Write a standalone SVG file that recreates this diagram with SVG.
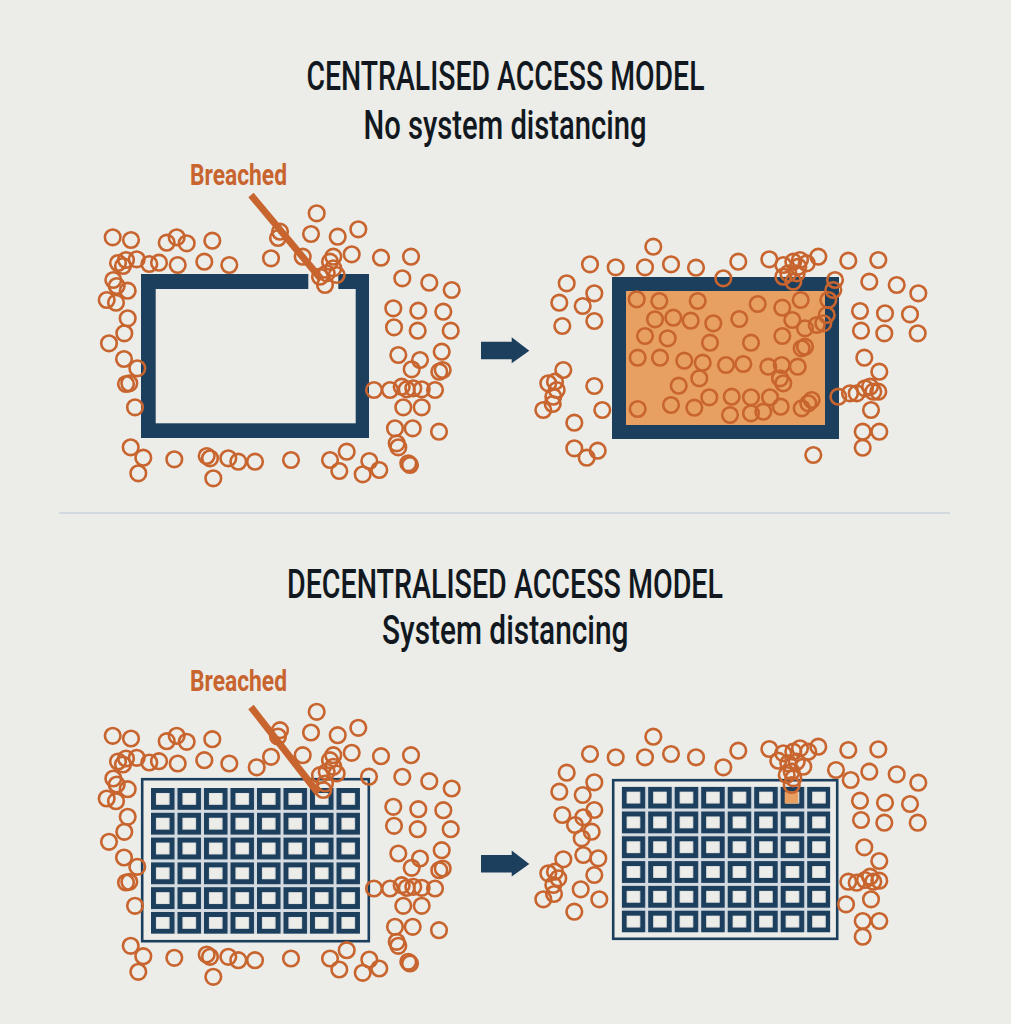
<svg xmlns="http://www.w3.org/2000/svg" xmlns:xlink="http://www.w3.org/1999/xlink" width="1011" height="1024" viewBox="0 0 1011 1024">
<style>
.title{font-family:Roboto,"Liberation Sans",sans-serif;font-weight:500;font-size:41px;fill:#111820;}
.sub{font-family:Roboto,"Liberation Sans",sans-serif;font-weight:500;font-size:40px;fill:#111820;}
.breach{font-family:Roboto,"Liberation Sans",sans-serif;font-weight:bold;font-size:30px;fill:#C8642E;}
.p circle{fill:none;stroke:#C8642E;stroke-width:2.6;r:7.8px;}
.wall{fill:#1C3F5E;}
.bg{fill:#ECECE8;}
.ptr{stroke:#C8642E;stroke-width:7;stroke-linecap:butt;}
</style>
<defs>
<pattern id="cells" patternUnits="userSpaceOnUse" x="0" y="0" width="26.5" height="24.8">
<rect x="0" y="0" width="26.5" height="24.8" fill="#D3DAE0"/>
<rect x="0" y="0" width="23.5" height="21.8" fill="#1C3F5E"/>
<rect x="5" y="5" width="13.5" height="11.8" fill="#ECECE8"/>
</pattern>
<g id="crowdL" class="p">
<circle cx="316.7" cy="213.3" r="7.8"/><circle cx="280" cy="231.7" r="7.8"/><circle cx="278" cy="238" r="7.8"/><circle cx="311" cy="234" r="7.8"/><circle cx="337.7" cy="236.7" r="7.8"/><circle cx="358.3" cy="229.3" r="7.8"/>
<circle cx="112.7" cy="237.3" r="7.8"/><circle cx="131" cy="240" r="7.8"/><circle cx="166.7" cy="242.7" r="7.8"/><circle cx="176.7" cy="237.3" r="7.8"/><circle cx="186.7" cy="243.3" r="7.8"/><circle cx="212.3" cy="240.7" r="7.8"/>
<circle cx="271" cy="258.3" r="7.8"/><circle cx="302.7" cy="256.7" r="7.8"/><circle cx="333.3" cy="256.7" r="7.8"/><circle cx="351.7" cy="254.3" r="7.8"/><circle cx="381" cy="257.7" r="7.8"/><circle cx="411" cy="256.7" r="7.8"/>
<circle cx="118" cy="263" r="7.8"/><circle cx="123" cy="266" r="7.8"/><circle cx="126" cy="260" r="7.8"/><circle cx="136.7" cy="259.3" r="7.8"/><circle cx="149.3" cy="264" r="7.8"/><circle cx="159" cy="262.7" r="7.8"/><circle cx="177.7" cy="265" r="7.8"/><circle cx="204.3" cy="261.7" r="7.8"/><circle cx="229.3" cy="265" r="7.8"/>
<circle cx="330" cy="261.7" r="7.8"/><circle cx="333.3" cy="268.3" r="7.8"/><circle cx="326.7" cy="273.3" r="7.8"/><circle cx="325" cy="285" r="7.8"/><circle cx="336.7" cy="275" r="7.8"/><circle cx="320" cy="276.7" r="7.8"/>
<circle cx="402.3" cy="278.3" r="7.8"/><circle cx="429.3" cy="282.7" r="7.8"/><circle cx="451.7" cy="290" r="7.8"/>
<circle cx="113.3" cy="280" r="7.8"/><circle cx="116.7" cy="286" r="7.8"/><circle cx="127.7" cy="290.7" r="7.8"/><circle cx="106.7" cy="300" r="7.8"/><circle cx="116" cy="302.7" r="7.8"/><circle cx="127.7" cy="318.3" r="7.8"/><circle cx="124.3" cy="333.3" r="7.8"/><circle cx="109" cy="343.3" r="7.8"/><circle cx="124" cy="359" r="7.8"/><circle cx="137.3" cy="368.3" r="7.8"/><circle cx="129.3" cy="383.3" r="7.8"/><circle cx="126" cy="384" r="7.8"/><circle cx="135" cy="407.3" r="7.8"/>
<circle cx="393.3" cy="308.3" r="7.8"/><circle cx="418.3" cy="310.7" r="7.8"/><circle cx="443.3" cy="311.7" r="7.8"/><circle cx="394" cy="327.3" r="7.8"/><circle cx="417.7" cy="330.7" r="7.8"/><circle cx="450.7" cy="330.7" r="7.8"/>
<circle cx="398.3" cy="355" r="7.8"/><circle cx="420" cy="360" r="7.8"/><circle cx="441.7" cy="351.7" r="7.8"/><circle cx="411.7" cy="369.3" r="7.8"/><circle cx="439.3" cy="371.7" r="7.8"/><circle cx="442.7" cy="370" r="7.8"/>
<circle cx="374" cy="390" r="7.8"/><circle cx="390" cy="390" r="7.8"/><circle cx="401.7" cy="386.7" r="7.8"/><circle cx="406.7" cy="389.3" r="7.8"/><circle cx="413.3" cy="388.3" r="7.8"/><circle cx="421.7" cy="389.3" r="7.8"/><circle cx="435" cy="390" r="7.8"/>
<circle cx="403.3" cy="407.3" r="7.8"/><circle cx="421.7" cy="407.3" r="7.8"/><circle cx="395" cy="428.3" r="7.8"/><circle cx="412.7" cy="428.3" r="7.8"/><circle cx="439" cy="431.7" r="7.8"/><circle cx="396.7" cy="443.3" r="7.8"/><circle cx="398.3" cy="447.3" r="7.8"/><circle cx="408.3" cy="463.3" r="7.8"/><circle cx="410" cy="465" r="7.8"/>
<circle cx="130.7" cy="447.3" r="7.8"/><circle cx="143.3" cy="457.7" r="7.8"/><circle cx="138.3" cy="473.3" r="7.8"/><circle cx="174.3" cy="459.3" r="7.8"/><circle cx="206.7" cy="456" r="7.8"/><circle cx="210" cy="458.3" r="7.8"/><circle cx="228.3" cy="458.3" r="7.8"/><circle cx="238.3" cy="461.7" r="7.8"/><circle cx="255" cy="461.7" r="7.8"/><circle cx="213.3" cy="478.3" r="7.8"/>
<circle cx="291" cy="460" r="7.8"/><circle cx="330" cy="460" r="7.8"/><circle cx="346.7" cy="451.7" r="7.8"/><circle cx="339.3" cy="471" r="7.8"/><circle cx="369.3" cy="461" r="7.8"/><circle cx="362.7" cy="474.3" r="7.8"/><circle cx="379.3" cy="470" r="7.8"/>
</g>
</defs>
<rect x="0" y="0" width="1011" height="1024" fill="#ECECE8"/>

<g id="title-centralised">
<text class="title" x="306.5" y="89.5" textLength="398" lengthAdjust="spacingAndGlyphs">CENTRALISED ACCESS MODEL</text>
<text class="sub" x="363.5" y="138.5" textLength="283" lengthAdjust="spacingAndGlyphs">No system distancing</text>
</g>

<g id="centralised-before">
<rect class="wall" x="141" y="274" width="228" height="164"/>
<rect class="bg" x="155.7" y="289" width="200" height="134.3"/>
<rect class="bg" x="308.3" y="273" width="30" height="17"/>
<use xlink:href="#crowdL"/>
<line class="ptr" x1="251" y1="195" x2="321" y2="279"/>
<text class="breach" x="190" y="185" textLength="97" lengthAdjust="spacingAndGlyphs">Breached</text>
</g>

<g id="centralised-after">
<rect class="wall" x="612" y="277" width="227" height="162"/>
<rect x="626" y="291" width="199" height="134" fill="#E8A062"/>
<g class="p">
<circle cx="653.3" cy="246.7" r="7.8"/><circle cx="590" cy="264.3" r="7.8"/><circle cx="615.7" cy="267.3" r="7.8"/><circle cx="645" cy="267.3" r="7.8"/><circle cx="671" cy="264.3" r="7.8"/><circle cx="696" cy="267.7" r="7.8"/><circle cx="738.3" cy="261.7" r="7.8"/><circle cx="723.3" cy="278.3" r="7.8"/><circle cx="769.3" cy="259.3" r="7.8"/>
<circle cx="783.3" cy="265" r="7.8"/><circle cx="793.3" cy="261.7" r="7.8"/><circle cx="800" cy="260" r="7.8"/><circle cx="806.7" cy="263.3" r="7.8"/><circle cx="818.3" cy="256.7" r="7.8"/><circle cx="788.3" cy="273.3" r="7.8"/><circle cx="796.7" cy="273.3" r="7.8"/><circle cx="793.3" cy="281.7" r="7.8"/><circle cx="783.3" cy="276.7" r="7.8"/><circle cx="798.3" cy="266.7" r="7.8"/>
<circle cx="848.3" cy="260.7" r="7.8"/><circle cx="878.3" cy="260" r="7.8"/><circle cx="869.3" cy="281.7" r="7.8"/><circle cx="896.7" cy="285" r="7.8"/><circle cx="918.3" cy="293.3" r="7.8"/>
<circle cx="835" cy="280" r="7.8"/><circle cx="833.3" cy="290" r="7.8"/><circle cx="828.3" cy="300" r="7.8"/><circle cx="826.7" cy="315" r="7.8"/><circle cx="823.3" cy="323.3" r="7.8"/><circle cx="816.7" cy="325" r="7.8"/>
<circle cx="566.7" cy="283.3" r="7.8"/><circle cx="559.3" cy="302.7" r="7.8"/><circle cx="594.3" cy="293.3" r="7.8"/><circle cx="582.7" cy="306" r="7.8"/><circle cx="594.3" cy="321" r="7.8"/><circle cx="562.3" cy="326" r="7.8"/>
<circle cx="860" cy="311" r="7.8"/><circle cx="885" cy="313.3" r="7.8"/><circle cx="910" cy="314.3" r="7.8"/><circle cx="861" cy="330.7" r="7.8"/><circle cx="884.3" cy="333.3" r="7.8"/><circle cx="917.7" cy="333.3" r="7.8"/><circle cx="864.3" cy="357.7" r="7.8"/><circle cx="879.3" cy="371.7" r="7.8"/>
<circle cx="563.3" cy="370" r="7.8"/><circle cx="548.3" cy="383.3" r="7.8"/><circle cx="555" cy="381.7" r="7.8"/><circle cx="556.7" cy="390" r="7.8"/><circle cx="553.3" cy="396.7" r="7.8"/><circle cx="552.7" cy="404" r="7.8"/><circle cx="543.3" cy="410" r="7.8"/>
<circle cx="594.3" cy="386" r="7.8"/><circle cx="602.3" cy="410" r="7.8"/><circle cx="574.3" cy="422.7" r="7.8"/><circle cx="574.3" cy="448.3" r="7.8"/><circle cx="586.7" cy="457.7" r="7.8"/><circle cx="597.7" cy="450.7" r="7.8"/>
<circle cx="838.3" cy="396.7" r="7.8"/><circle cx="850" cy="393.3" r="7.8"/><circle cx="856.7" cy="393.3" r="7.8"/><circle cx="865" cy="388.3" r="7.8"/><circle cx="870" cy="386.7" r="7.8"/><circle cx="873.3" cy="391.7" r="7.8"/><circle cx="878.3" cy="391.7" r="7.8"/>
<circle cx="871" cy="410" r="7.8"/><circle cx="862.7" cy="431.7" r="7.8"/><circle cx="879.3" cy="431.7" r="7.8"/><circle cx="862.7" cy="447.7" r="7.8"/><circle cx="813.3" cy="455" r="7.8"/>
<circle cx="636.7" cy="299.3" r="7.8"/><circle cx="659.3" cy="301" r="7.8"/><circle cx="697.7" cy="301" r="7.8"/><circle cx="757.7" cy="304" r="7.8"/><circle cx="782.3" cy="307.7" r="7.8"/><circle cx="800.7" cy="300" r="7.8"/>
<circle cx="655" cy="319.3" r="7.8"/><circle cx="673.3" cy="317.7" r="7.8"/><circle cx="690.7" cy="320.7" r="7.8"/><circle cx="713.3" cy="323.3" r="7.8"/><circle cx="739.3" cy="319" r="7.8"/><circle cx="792.3" cy="320" r="7.8"/><circle cx="805" cy="328.3" r="7.8"/>
<circle cx="645" cy="336" r="7.8"/><circle cx="667.7" cy="338.3" r="7.8"/><circle cx="710" cy="342.7" r="7.8"/><circle cx="751" cy="342.7" r="7.8"/><circle cx="782.3" cy="336" r="7.8"/><circle cx="801.7" cy="348.3" r="7.8"/><circle cx="805" cy="346.7" r="7.8"/>
<circle cx="637.7" cy="357.7" r="7.8"/><circle cx="660" cy="357.7" r="7.8"/><circle cx="684.3" cy="360.7" r="7.8"/><circle cx="702.7" cy="362.7" r="7.8"/><circle cx="726" cy="365" r="7.8"/><circle cx="743.3" cy="364" r="7.8"/><circle cx="768.3" cy="366.7" r="7.8"/><circle cx="781.7" cy="365" r="7.8"/><circle cx="797.7" cy="366.7" r="7.8"/>
<circle cx="780" cy="378.3" r="7.8"/><circle cx="783.3" cy="383.3" r="7.8"/><circle cx="699.3" cy="378.3" r="7.8"/><circle cx="678.7" cy="385.7" r="7.8"/>
<circle cx="709.3" cy="397.3" r="7.8"/><circle cx="731.7" cy="396.7" r="7.8"/><circle cx="751" cy="397.3" r="7.8"/><circle cx="770" cy="397.3" r="7.8"/>
<circle cx="637.7" cy="409" r="7.8"/><circle cx="671" cy="405" r="7.8"/><circle cx="694.3" cy="407.7" r="7.8"/><circle cx="730" cy="415" r="7.8"/><circle cx="751" cy="413.3" r="7.8"/><circle cx="763.3" cy="411.7" r="7.8"/><circle cx="780.7" cy="406.7" r="7.8"/><circle cx="801.7" cy="408.3" r="7.8"/><circle cx="808.3" cy="403.3" r="7.8"/><circle cx="811.7" cy="400" r="7.8"/>
</g>
</g>

<line id="separator" x1="59" y1="513" x2="950" y2="513" stroke="#B9C8D6" stroke-width="1"/>

<g id="title-decentralised">
<text class="title" x="287" y="597.5" textLength="436" lengthAdjust="spacingAndGlyphs">DECENTRALISED ACCESS MODEL</text>
<text class="sub" x="382" y="643.5" textLength="246.5" lengthAdjust="spacingAndGlyphs">System distancing</text>
</g>

<g id="decentralised-before">
<rect x="142.2" y="779.2" width="226.6" height="162" fill="#ECECE8" stroke="#1C3F5E" stroke-width="2.6"/>
<g transform="translate(151,788)"><rect x="0" y="0" width="209" height="145.8" fill="url(#cells)"/></g>
<use xlink:href="#crowdL" transform="translate(0,498.5)"/>
<g class="p"><circle cx="256.7" cy="767.3" r="7.8"/><circle cx="369" cy="776.7" r="7.8"/><circle cx="323.3" cy="790" r="7.8"/></g>
<line class="ptr" x1="251" y1="707" x2="318" y2="793"/>
<text class="breach" x="190" y="691" textLength="97" lengthAdjust="spacingAndGlyphs">Breached</text>
</g>

<g id="decentralised-after">
<rect x="613.2" y="780.2" width="224" height="158.6" fill="#ECECE8" stroke="#1C3F5E" stroke-width="2.6"/>
<g transform="translate(621.7,786.7)"><rect x="0" y="0" width="208.5" height="145.8" fill="url(#cells)"/></g>
<rect x="784.7" y="791.7" width="13.5" height="11.8" fill="#E8A062"/>
<g class="p">
<circle cx="653.3" cy="736.7" r="7.8"/><circle cx="590" cy="754" r="7.8"/><circle cx="615.7" cy="757.3" r="7.8"/><circle cx="645" cy="757.3" r="7.8"/><circle cx="671" cy="754" r="7.8"/><circle cx="696" cy="757.3" r="7.8"/><circle cx="738.3" cy="750.7" r="7.8"/><circle cx="723.3" cy="767.3" r="7.8"/><circle cx="769.3" cy="749" r="7.8"/>
<circle cx="783.3" cy="753.3" r="7.8"/><circle cx="793.3" cy="751.7" r="7.8"/><circle cx="800" cy="748.3" r="7.8"/><circle cx="808.3" cy="751.7" r="7.8"/><circle cx="818.3" cy="746.7" r="7.8"/><circle cx="778.3" cy="760.7" r="7.8"/><circle cx="788.3" cy="763.3" r="7.8"/><circle cx="796.7" cy="761.7" r="7.8"/><circle cx="803.3" cy="766.7" r="7.8"/><circle cx="791.7" cy="771.7" r="7.8"/><circle cx="793.3" cy="778.3" r="7.8"/><circle cx="791.7" cy="785" r="7.8"/><circle cx="786.7" cy="775" r="7.8"/>
<circle cx="848.3" cy="750" r="7.8"/><circle cx="878.3" cy="749.3" r="7.8"/><circle cx="836" cy="770" r="7.8"/><circle cx="850.7" cy="780" r="7.8"/><circle cx="869.3" cy="771.7" r="7.8"/><circle cx="896.7" cy="774.3" r="7.8"/><circle cx="918.3" cy="782.7" r="7.8"/>
<circle cx="860" cy="800.7" r="7.8"/><circle cx="885" cy="802.7" r="7.8"/><circle cx="910" cy="804" r="7.8"/><circle cx="861" cy="820" r="7.8"/><circle cx="884.3" cy="822.7" r="7.8"/><circle cx="917.7" cy="822.7" r="7.8"/><circle cx="864.3" cy="847.3" r="7.8"/><circle cx="879.3" cy="861" r="7.8"/>
<circle cx="848.3" cy="881.7" r="7.8"/><circle cx="856.7" cy="882.7" r="7.8"/><circle cx="865" cy="880" r="7.8"/><circle cx="870" cy="876.7" r="7.8"/><circle cx="873.3" cy="881.7" r="7.8"/><circle cx="879.3" cy="880.7" r="7.8"/>
<circle cx="846" cy="904.3" r="7.8"/><circle cx="871" cy="899.3" r="7.8"/><circle cx="862.7" cy="921" r="7.8"/><circle cx="879.3" cy="921" r="7.8"/><circle cx="862.7" cy="936.7" r="7.8"/>
<circle cx="566.7" cy="772.7" r="7.8"/><circle cx="559.3" cy="791.7" r="7.8"/><circle cx="594.3" cy="782.3" r="7.8"/><circle cx="582.7" cy="795" r="7.8"/><circle cx="594.3" cy="810" r="7.8"/><circle cx="562.3" cy="815" r="7.8"/>
<circle cx="575" cy="825" r="7.8"/><circle cx="583.3" cy="817.3" r="7.8"/><circle cx="591.7" cy="831.7" r="7.8"/><circle cx="581.7" cy="838.3" r="7.8"/>
<circle cx="583.3" cy="855" r="7.8"/><circle cx="598.3" cy="858.3" r="7.8"/><circle cx="563.3" cy="859.3" r="7.8"/>
<circle cx="548.3" cy="873.3" r="7.8"/><circle cx="555" cy="871.7" r="7.8"/><circle cx="558.3" cy="878.3" r="7.8"/><circle cx="553.3" cy="885" r="7.8"/><circle cx="554" cy="894" r="7.8"/><circle cx="543.3" cy="899.3" r="7.8"/>
<circle cx="594.3" cy="875" r="7.8"/><circle cx="580.7" cy="889.3" r="7.8"/><circle cx="599.3" cy="899.3" r="7.8"/><circle cx="574.3" cy="911.7" r="7.8"/>
</g>
</g>

<g id="connectors">
<path d="M481,341.7 H511.7 V337.3 L529.3,350.7 L511.7,363.3 V359.3 H481 Z" fill="#1C3F5E"/>
<path d="M481,855 H511.7 V850.6 L529.3,864 L511.7,876.6 V872.6 H481 Z" fill="#1C3F5E"/>
</g>
</svg>
